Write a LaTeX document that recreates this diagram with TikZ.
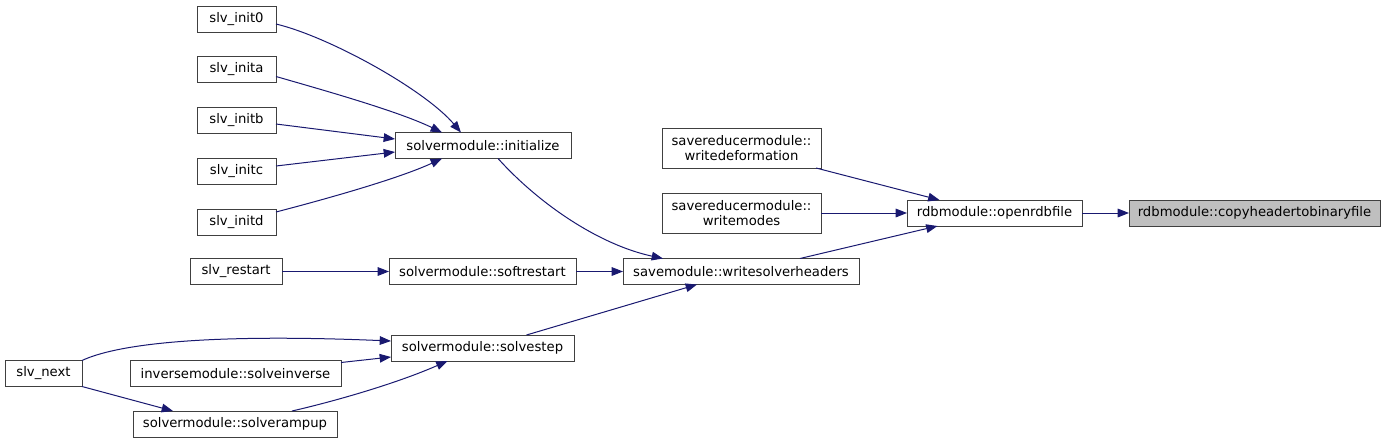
\documentclass[tikz,border=0pt]{standalone}
\usepackage{fontspec}
\setmainfont{DejaVu Sans}
\usepackage{xcolor}
\usepackage{tikz}
\usetikzlibrary{arrows.meta,calc}

\definecolor{edgeblue}{HTML}{191970}
\definecolor{boxline}{HTML}{404040}
\definecolor{boxgray}{HTML}{BFBFBF}

\tikzset{
  fnbox/.style={draw=boxline, line width=0.75pt, fill=white, rectangle,
    inner sep=0pt, outer sep=0pt, minimum height=19.5pt, align=center},
  callarrow/.style={draw=edgeblue, line width=0.75pt,
    -{Triangle[length=8.5pt,width=6.5pt]}}
}

\begin{document}
\begin{tikzpicture}[x=0.75pt, y=-0.75pt, font=\fontsize{9.9}{11}\selectfont]
  \useasboundingbox (0,0) rectangle (1385,443);

  % Callers of solvermodule::initialize
  \foreach \n/\lab/\y in {init0/{slv\_init0}/19, inita/{slv\_inita}/69.5,
      initb/{slv\_initb}/120, initc/{slv\_initc}/171, initd/{slv\_initd}/222} {
    \node[fnbox, minimum width=59.25pt] (\n) at (236.5, \y) {\lab};
  }

  % Middle column
  \node[fnbox, minimum width=132pt] (initialize) at (483, 145.5) {solvermodule::initialize};
  \node[fnbox, minimum width=69pt] (restart) at (236, 271.5) {slv\_restart};
  \node[fnbox, minimum width=140.25pt] (softrestart) at (482.5, 271.5) {solvermodule::softrestart};
  \node[fnbox, minimum width=137.25pt] (solvestep) at (482.5, 348) {solvermodule::solvestep};

  % Bottom left
  \node[fnbox, minimum width=57.75pt] (slvnext) at (43.5, 373.5) {slv\_next};
  \node[fnbox, minimum width=158.25pt] (solveinv) at (235.5, 373.5) {inversemodule::solveinverse};
  \node[fnbox, minimum width=153pt] (solverampup) at (235, 424) {solvermodule::solverampup};

  % Right part
  \node[fnbox, minimum width=119.25pt, minimum height=30pt] (wdeform) at (741.5, 148) {savereducermodule::\\writedeformation};
  \node[fnbox, minimum width=119.25pt, minimum height=30pt] (wmodes) at (741.5, 213) {savereducermodule::\\writemodes};
  \node[fnbox, minimum width=177pt] (wsolvhdr) at (741, 271.5) {savemodule::writesolverheaders};
  \node[fnbox, minimum width=131.25pt] (openrdb) at (994.5, 213) {rdbmodule::openrdbfile};
  \node[fnbox, minimum width=188.25pt, fill=boxgray] (copyhdr) at (1254.5, 213) {rdbmodule::copyheadertobinaryfile};

  % Calls into initialize
  \draw[callarrow] ($(init0.east)+(0,5)$) .. controls (330,37) and (425,90) .. ($(initialize.north)+(-22,0)$);
  \draw[callarrow] ($(inita.east)+(0,7)$) .. controls (330,92) and (400,112) .. ($(initialize.north)+(-41,0)$);
  \draw[callarrow] ($(initb.east)+(0,4)$) -- ($(initialize.west)+(0,-6.5)$);
  \draw[callarrow] ($(initc.east)+(0,-5)$) -- ($(initialize.west)+(0,6.5)$);
  \draw[callarrow] ($(initd.east)+(0,-10)$) .. controls (330,198) and (400,178) .. ($(initialize.south)+(-41,0)$);

  % Calls into writesolverheaders
  \draw[callarrow] ($(initialize.south)+(15,0)$) .. controls (540,205) and (600,245) .. ($(wsolvhdr.north)+(-78,0)$);
  \draw[callarrow] (restart) -- (softrestart);
  \draw[callarrow] (softrestart) -- (wsolvhdr);
  \draw[callarrow] ($(solvestep.north)+(44,0)$) -- ($(wsolvhdr.south)+(-44,0)$);

  % Calls into solvestep
  \draw[callarrow] (slvnext.north east) .. controls (115,345) and (200,333) .. ($(solvestep.west)+(0,-7)$);
  \draw[callarrow] ($(solveinv.east)+(0,-11)$) -- ($(solvestep.west)+(0,9)$);
  \draw[callarrow] ($(solverampup.north)+(57,0)$) .. controls (340,400) and (400,382) .. ($(solvestep.south)+(-35,0)$);
  \draw[callarrow] (slvnext.south east) -- ($(solverampup.north)+(-62,0)$);

  % Calls into openrdbfile
  \draw[callarrow] ($(wdeform.south east)+(-5,0)$) -- ($(openrdb.north)+(-55,0)$);
  \draw[callarrow] (wmodes) -- (openrdb);
  \draw[callarrow] ($(wsolvhdr.north)+(59,0)$) -- ($(openrdb.south)+(-57,0)$);
  \draw[callarrow] (openrdb) -- (copyhdr);

\end{tikzpicture}
\end{document}
